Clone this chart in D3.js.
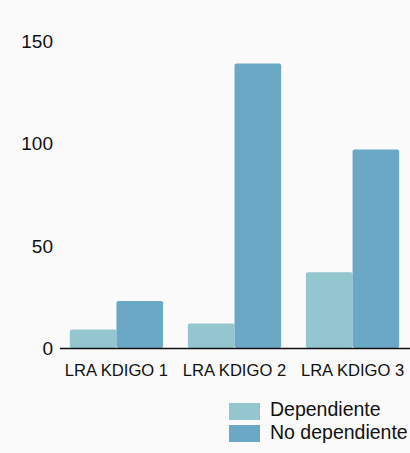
<!DOCTYPE html>
<html><head><meta charset="utf-8">
<script src="https://cdn.jsdelivr.net/npm/d3@7"></script>
<style>html,body{margin:0;padding:0;background:#fafafa;}svg{display:block;font-family:"Liberation Sans",Arial,sans-serif;}</style>
</head><body>
<svg id="c" width="410" height="453"></svg>
<script>
const categories = ["LRA KDIGO 1", "LRA KDIGO 2", "LRA KDIGO 3"];
const seriesNames = ["Dependiente", "No dependiente"];
const dependiente = [9, 12, 37];
const noDependiente = [23, 139, 97];
const yTicks = [0, 50, 100, 150];
const colors = ["#93c6cf", "#6aa8c6"];

const svg = d3.select("#c");
const y = d3.scaleLinear().domain([0, 150]).range([348, 41]);
const x0 = d3.scaleBand().domain(categories).range([58, 411]).paddingInner(0.21).paddingOuter(0.1);
const x1 = d3.scaleBand().domain(seriesNames).range([0, x0.bandwidth()]).padding(0);

const data = categories.map((c, i) => ({cat: c, vals: [dependiente[i], noDependiente[i]]}));

const g = svg.append("g");
data.forEach(d => {
  d.vals.forEach((v, j) => {
    g.append("rect")
      .attr("x", x0(d.cat) + x1(seriesNames[j]))
      .attr("y", y(v))
      .attr("width", x1.bandwidth())
      .attr("height", y(0) - y(v))
      .attr("rx", 2).attr("ry", 2)
      .attr("fill", colors[j]);
  });
});

// y tick labels
svg.append("g").selectAll("text").data(yTicks).join("text")
  .attr("x", 53).attr("y", d => y(d)).attr("dy", "0.36em")
  .attr("text-anchor", "end").attr("font-size", 19).attr("fill", "#111")
  .text(d => d);

// x axis line
svg.append("line").attr("x1", 60).attr("x2", 410).attr("y1", y(0)+0.5).attr("y2", y(0)+0.5)
  .attr("stroke", "#111").attr("stroke-width", 1.5);

// category labels
svg.append("g").selectAll("text").data(categories).join("text")
  .attr("x", d => x0(d) + x0.bandwidth()/2).attr("y", 376)
  .attr("text-anchor", "middle").attr("font-size", 16.6).attr("fill", "#111")
  .text(d => d);

// legend
const lg = svg.append("g");
seriesNames.forEach((s, i) => {
  lg.append("rect").attr("x", 229).attr("y", 403 + i*22).attr("width", 31).attr("height", 17).attr("fill", colors[i]);
  lg.append("text").attr("x", 270).attr("y", 416 + i*23)
    .attr("font-size", 19.5).attr("fill", "#111").text(s);
});
</script>
</body></html>
